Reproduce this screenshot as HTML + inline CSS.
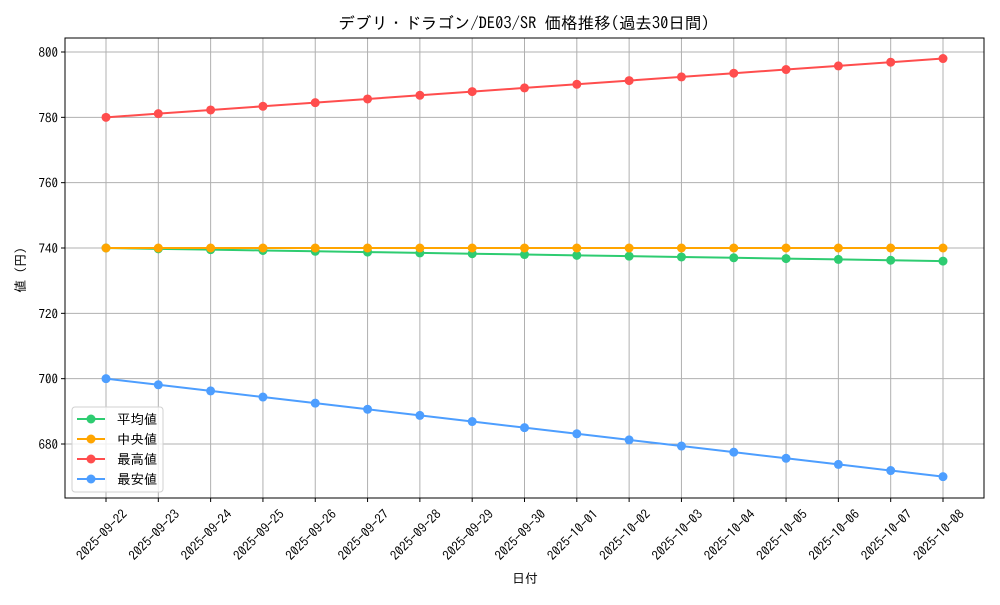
<!DOCTYPE html>
<html><head><meta charset="utf-8"><style>
body{margin:0;background:#fff}
svg text{font-family:"IPAGothic","Noto Sans CJK JP",monospace;fill:#000}
</style></head><body>
<svg id="s" width="1000" height="600" xmlns="http://www.w3.org/2000/svg"></svg>
<script>
const s=document.getElementById('s');
let h='';
const L=65,R=984,T=38,B=498;
const x0=106,dx=(943-106)/16;
const y=v=>52+(800-v)*(392/120);
const dates=[];
for(let i=22;i<=30;i++)dates.push('2025-09-'+i);
for(let i=1;i<=8;i++)dates.push('2025-10-0'+i);
for(let i=0;i<17;i++){const X=x0+i*dx;h+=`<line x1="${X}" y1="${T}" x2="${X}" y2="${B}" stroke="#b0b0b0" stroke-width="1"/>`;
h+=`<line x1="${X}" y1="${B}" x2="${X}" y2="${B+4}" stroke="#000"/>`;
h+=`<text transform="translate(${X+22},${B+17}) rotate(-45)" text-anchor="end" font-size="13">${dates[i]}</text>`;}
for(let v=680;v<=800;v+=20){const Y=y(v);h+=`<line x1="${L}" y1="${Y}" x2="${R}" y2="${Y}" stroke="#b0b0b0" stroke-width="1"/>`;
h+=`<line x1="${L-4}" y1="${Y}" x2="${L}" y2="${Y}" stroke="#000"/>`;
h+=`<text x="${L-7}" y="${Y+5}" text-anchor="end" font-size="13">${v}</text>`;}
const ser=[['#2ecc71',740,736],['#ffa500',740,740],['#ff4d4d',780,798],['#4d9eff',700,670]];
for(const [c,a,b] of ser){let p=[];for(let i=0;i<17;i++)p.push([x0+i*dx,y(a+(b-a)*i/16)]);
h+=`<polyline points="${p.map(q=>q.join(',')).join(' ')}" fill="none" stroke="${c}" stroke-width="2"/>`;
for(const q of p)h+=`<circle cx="${q[0]}" cy="${q[1]}" r="4.5" fill="${c}"/>`;}
h+=`<rect x="${L}" y="${T}" width="${R-L}" height="${B-T}" fill="none" stroke="#000" stroke-width="1"/>`;
h+=`<rect x="72" y="407" width="91" height="85" rx="3" fill="#fff" fill-opacity="0.8" stroke="#d0d0d0"/>`;
const names=['平均値','中央値','最高値','最安値'];
for(let i=0;i<4;i++){const Y=419+i*20;const c=ser[i][0];
h+=`<line x1="77" y1="${Y}" x2="105" y2="${Y}" stroke="${c}" stroke-width="2"/><circle cx="91" cy="${Y}" r="4.5" fill="${c}"/>`;
h+=`<text x="117" y="${Y+5}" font-size="13.5">${names[i]}</text>`;}
h+=`<text x="524" y="29" text-anchor="middle" font-size="16.5">デブリ・ドラゴン/DE03/SR 価格推移(過去30日間)</text>`;
h+=`<text x="525" y="583" text-anchor="middle" font-size="13">日付</text>`;
h+=`<text transform="translate(25,270) rotate(-90)" text-anchor="middle" font-size="13">値 (円)</text>`;
s.innerHTML=h;
</script>
</body></html>
